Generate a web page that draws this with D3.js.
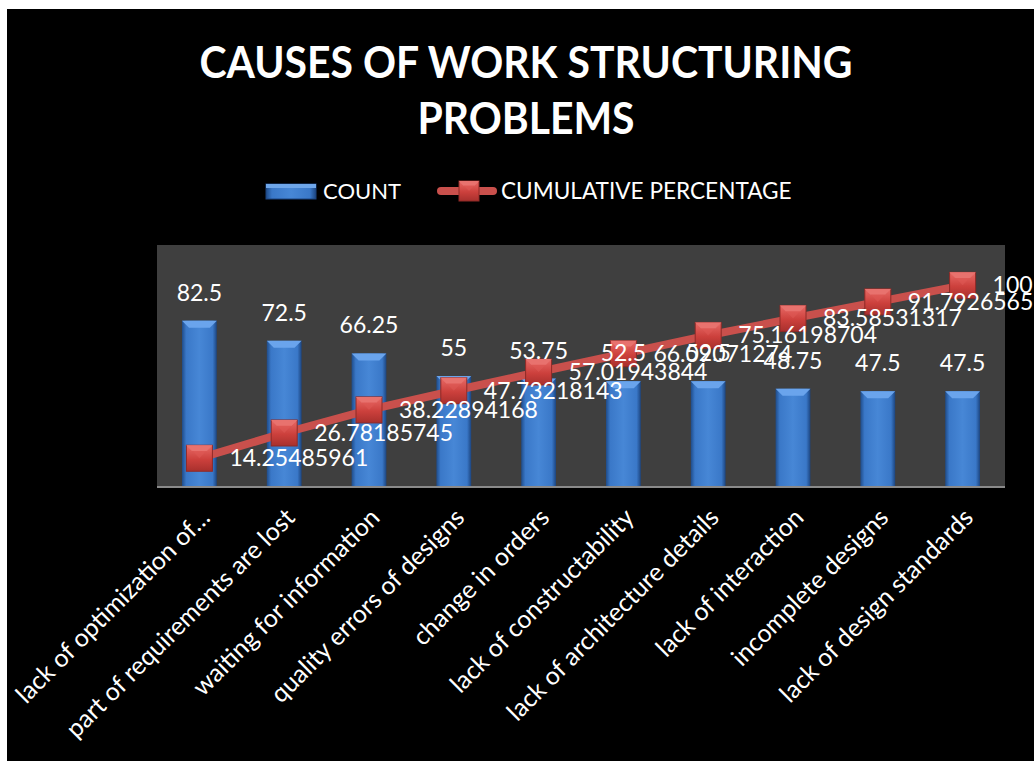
<!DOCTYPE html>
<html>
<head>
<meta charset="utf-8">
<script src="https://cdn.jsdelivr.net/npm/d3@7/dist/d3.min.js"></script>
<style>
  body { margin: 0; background: #fff; }
  text { font-family: Lato, "Open Sans", sans-serif; fill: #fff; }
</style>
</head>
<body>
<div id="graph"></div>
<script>
// Chart data
const categories = [
  "lack of optimization of…",
  "part of requirements are lost",
  "waiting for information",
  "quality errors of designs",
  "change in orders",
  "lack of constructability",
  "lack of architecture details",
  "lack of interaction",
  "incomplete  designs",
  "lack of design standards"
];
const counts = [82.5, 72.5, 66.25, 55, 53.75, 52.5, 52.5, 48.75, 47.5, 47.5];
const cumulative = [14.25485961, 26.78185745, 38.22894168, 47.73218143, 57.01943844,
  66.09071274, 75.16198704, 83.58531317, 91.79265659, 100];
const titleLines = ["CAUSES OF WORK STRUCTURING", "PROBLEMS"];
const seriesNames = ["COUNT", "CUMULATIVE PERCENTAGE"];

drawChart();

function drawChart() {
  // Size of the svg area
  const w = 1034;
  const h = 761;

  // Plot area
  const plot = { left: 157, right: 1005, top: 245, bottom: 487 };

  const svg = d3.select("#graph")
    .append("svg")
    .attr("width", w)
    .attr("height", h);

  // Gradients for the bevelled bars and markers
  const defs = svg.append("defs");
  const barGrad = defs.append("linearGradient").attr("id", "barGrad")
    .attr("x1", 0).attr("x2", 1).attr("y1", 0).attr("y2", 0);
  [["0%", "#1f4c8a"], ["12%", "#3a78c8"], ["50%", "#4787d6"], ["88%", "#3a78c8"], ["100%", "#1c4580"]]
    .forEach(s => barGrad.append("stop").attr("offset", s[0]).attr("stop-color", s[1]));
  const markGrad = defs.append("linearGradient").attr("id", "markGrad")
    .attr("x1", 0).attr("x2", 0).attr("y1", 0).attr("y2", 1);
  [["0%", "#e86a66"], ["55%", "#cc403c"], ["100%", "#a8302d"]]
    .forEach(s => markGrad.append("stop").attr("offset", s[0]).attr("stop-color", s[1]));

  // Black chart background with the white strip round it
  svg.append("rect").attr("x", 7).attr("y", 9).attr("width", w - 7).attr("height", h - 9)
    .attr("fill", "#000");

  // Plot area background
  svg.append("rect")
    .attr("x", plot.left).attr("y", plot.top)
    .attr("width", plot.right - plot.left).attr("height", plot.bottom - plot.top)
    .attr("fill", "#3f3f3f");

  // Scales
  const xScale = d3.scaleBand()
    .domain(categories)
    .range([plot.left, plot.right]);
  const yScale = d3.scaleLinear()
    .domain([0, 120])
    .range([plot.bottom, plot.top]);

  const bw = xScale.bandwidth() * 0.41;
  const cx = (d) => xScale(d) + xScale.bandwidth() / 2;

  // Title (squeezed a little, the original font is narrower)
  svg.append("g").selectAll("text")
    .data(titleLines)
    .enter()
    .append("text")
    .attr("transform", (d, i) => `translate(526,${78 + i * 56}) scale(0.93,1)`)
    .attr("text-anchor", "middle")
    .attr("font-size", 44)
    .attr("font-weight", "bold")
    .text((d) => d);

  // Legend
  const legend = svg.append("g");
  legend.append("rect").attr("x", 266).attr("y", 184).attr("width", 50).attr("height", 15)
    .attr("fill", "url(#barGrad)").attr("stroke", "#1c4580");
  legend.append("rect").attr("x", 266).attr("y", 184).attr("width", 50).attr("height", 4)
    .attr("fill", "#6ea6ea");
  legend.append("text").attr("x", 323).attr("y", 199).attr("font-size", 22).text(seriesNames[0]);
  legend.append("line").attr("x1", 441).attr("x2", 493).attr("y1", 191).attr("y2", 191)
    .attr("stroke", "#c9504c").attr("stroke-width", 8).attr("stroke-linecap", "round");
  drawMarker(legend, 469, 191, 20);
  legend.append("text").attr("x", 501).attr("y", 199).attr("font-size", 22.6).text(seriesNames[1]);

  // Bars
  const bars = svg.append("g").selectAll("g")
    .data(counts)
    .enter()
    .append("g");
  bars.append("rect")
    .attr("x", (d, i) => cx(categories[i]) - bw / 2)
    .attr("y", (d) => yScale(d))
    .attr("width", bw)
    .attr("height", (d) => yScale(0) - yScale(d))
    .attr("fill", "url(#barGrad)");
  // top bevel
  bars.append("path")
    .attr("d", (d, i) => {
      const x0 = cx(categories[i]) - bw / 2, x1 = x0 + bw, y0 = yScale(d);
      return `M${x0},${y0}L${x1},${y0}L${x1 - 7},${y0 + 7}L${x0 + 7},${y0 + 7}Z`;
    })
    .attr("fill", "#6aa4ec");

  // Axis line
  svg.append("line")
    .attr("x1", plot.left).attr("x2", plot.right)
    .attr("y1", plot.bottom).attr("y2", plot.bottom)
    .attr("stroke", "#8a8a8a").attr("stroke-width", 2);

  // Cumulative line
  const line = d3.line()
    .x((d, i) => cx(categories[i]))
    .y((d) => yScale(d));
  svg.append("path")
    .datum(cumulative)
    .attr("d", line)
    .attr("fill", "none")
    .attr("stroke", "#c9504c")
    .attr("stroke-width", 8);

  const marks = svg.append("g");
  cumulative.forEach((d, i) => drawMarker(marks, cx(categories[i]), yScale(d), 26));

  // Data labels of the bars
  svg.append("g").selectAll("text")
    .data(counts)
    .enter()
    .append("text")
    .attr("x", (d, i) => cx(categories[i]))
    .attr("y", (d) => yScale(d) - 20)
    .attr("text-anchor", "middle")
    .attr("font-size", 23)
    .text((d) => d);

  // Data labels of the line
  svg.append("g").selectAll("text")
    .data(cumulative)
    .enter()
    .append("text")
    .attr("x", (d, i) => cx(categories[i]) + 30)
    .attr("y", (d) => yScale(d))
    .attr("dy", "0.35em")
    .attr("font-size", 23)
    .text((d) => d);

  // Category labels, rotated
  svg.append("g").selectAll("text")
    .data(categories)
    .enter()
    .append("text")
    .attr("transform", (d) => `translate(${cx(d) + 6},${plot.bottom + 26}) rotate(-45)`)
    .attr("text-anchor", "end")
    .attr("dy", "0.35em")
    .attr("font-size", 25)
    .text((d) => d);
}

// Square marker with a bevel
function drawMarker(g, x, y, s) {
  const m = g.append("g").attr("transform", `translate(${x - s / 2},${y - s / 2})`);
  m.append("rect").attr("width", s).attr("height", s)
    .attr("fill", "url(#markGrad)").attr("stroke", "#8e2a27").attr("stroke-width", 1);
  const b = s * 0.22;
  m.append("path")
    .attr("d", `M0,0L${s},0L${s - b},${b}L${b},${b}Z`)
    .attr("fill", "#f08a86");
  m.append("path")
    .attr("d", `M0,0L${b},${b}L${s / 2},${s / 2}L${s - b},${b}L${s},0Z`)
    .attr("fill", "#e05a56").attr("opacity", 0.5);
}
</script>
</body>
</html>
